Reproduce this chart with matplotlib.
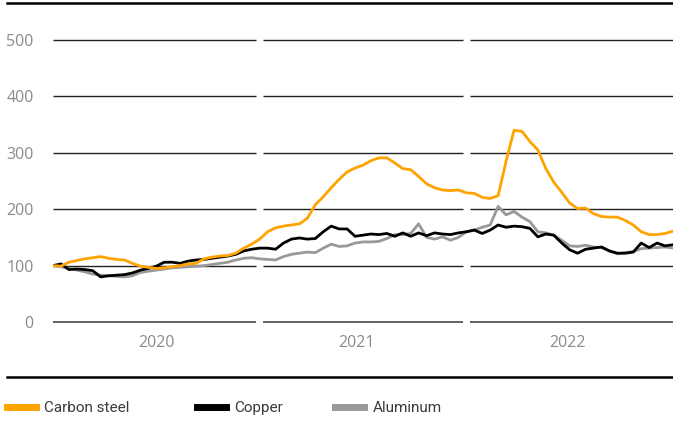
import numpy as np
import matplotlib
matplotlib.use("Agg")
import matplotlib.pyplot as plt
from matplotlib.lines import Line2D
from matplotlib.font_manager import FontProperties

# price index, 2020 start = 100, sampled every two weeks
carbon_steel = [100, 99, 106, 109, 112, 114, 116, 113, 111, 110,
                104, 99, 97, 95, 96, 98, 100, 103, 104, 112,
                115, 117, 118, 122, 131, 138, 147, 160, 167, 170,
                172, 174, 184, 208, 222, 238, 253, 266, 273, 278,
                286, 291, 291, 282, 272, 270, 258, 245, 238, 234,
                233, 234, 229, 228, 221, 219, 224, 285, 340, 338,
                320, 305, 272, 248, 230, 211, 201, 202, 192, 187,
                186, 186, 180, 172, 160, 155, 155, 157, 161]
copper = [100, 103, 93, 94, 93, 91, 80, 82, 83, 84,
          87, 92, 95, 99, 106, 106, 104, 108, 110, 111,
          113, 115, 117, 120, 126, 129, 131, 131, 129, 140,
          147, 149, 147, 148, 160, 170, 165, 165, 152, 154,
          156, 155, 157, 152, 158, 152, 158, 153, 158, 156,
          155, 158, 160, 163, 157, 163, 172, 168, 170, 169,
          166, 151, 156, 154, 140, 128, 122, 129, 131, 133,
          126, 122, 122, 124, 140, 132, 140, 135, 137]
aluminum = [100, 98, 95, 92, 89, 85, 83, 82, 81, 80,
            82, 88, 90, 92, 94, 96, 97, 98, 99, 100,
            102, 104, 106, 110, 113, 114, 112, 111, 110, 116,
            120, 122, 124, 123, 131, 138, 134, 135, 140, 142,
            142, 143, 148, 155, 155, 157, 174, 150, 147, 151,
            145, 150, 160, 163, 168, 172, 205, 190, 196, 186,
            178, 160, 158, 154, 145, 135, 134, 136, 133, 132,
            126, 121, 123, 125, 130, 131, 132, 133, 131]
years = ["2020", "2021", "2022"]
yticks = [0, 100, 200, 300, 400, 500]
steps_per_year = 26

x = np.arange(len(carbon_steel))

fig = plt.figure(figsize=(6.73, 4.21), dpi=100)
W, H = 673, 421
left, right = 53, 673
top, bottom = 28.7, 333.3
ax = fig.add_axes([left / W, 1 - bottom / H, (right - left) / W, (bottom - top) / H])
ax.set_xlim(0, len(x) - 1)
ax.set_ylim(-20, 520)

# gridlines broken at the year boundaries
gap = 0.45
bounds = [0, steps_per_year, 2 * steps_per_year, len(x) - 1]
for i in range(3):
    x0 = bounds[i] + (gap if i > 0 else 0)
    x1 = bounds[i + 1] - (gap if i < 2 else 0)
    for yv in yticks:
        ax.hlines(yv, x0, x1, color="#555555" if yv == 0 else "#222222",
                  lw=1.3 if yv == 0 else 1.0, zorder=1)

c_steel, c_copper, c_alu = "#FFA300", "#000000", "#999999"
ax.plot(x, aluminum, color=c_alu, lw=2.0, zorder=2)
ax.plot(x, copper, color=c_copper, lw=2.0, zorder=3)
ax.plot(x, carbon_steel, color=c_steel, lw=2.0, zorder=4)

for s in ax.spines.values():
    s.set_visible(False)
ax.set_yticks(yticks)
ax.set_yticklabels([str(v) for v in yticks], color="#8a8a8a",
                   fontsize=11.5, family=["Open Sans", "DejaVu Sans"])
ax.tick_params(axis="y", length=0, pad=14)
ax.set_xticks([13, 38.2, 64.7])
ax.set_xticklabels(years, color="#8a8a8a", fontsize=11.5,
                   family=["Open Sans", "DejaVu Sans"])
ax.tick_params(axis="x", length=0, pad=1)

# rules at top and above legend
fig.add_artist(Line2D([7 / W, 1], [1 - 3 / H, 1 - 3 / H], color="black", lw=1.8))
fig.add_artist(Line2D([7 / W, 1], [1 - 377 / H, 1 - 377 / H], color="black", lw=1.8))

# legend, one entry per block
lfont = FontProperties(family=["Roboto", "DejaVu Sans"], size=11)
for lab, col, px in [("Carbon steel", c_steel, 7), ("Copper", c_copper, 197),
                     ("Aluminum", c_alu, 335)]:
    h = Line2D([], [], color=col, lw=5)
    lg = fig.legend([h], [lab], loc="center left",
                    bbox_to_anchor=(px / W, 1 - 408 / H), frameon=False,
                    prop=lfont, handlelength=1.9, handletextpad=0.55,
                    borderpad=0, borderaxespad=0, labelcolor="#3a3a3a")

fig.savefig("out.png", dpi=100)
